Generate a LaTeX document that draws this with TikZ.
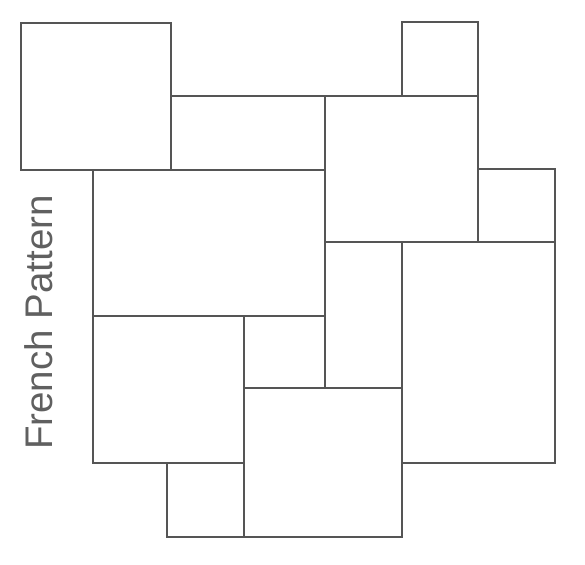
\documentclass[tikz,border=0pt]{standalone}
\usepackage{fontspec}
\setmainfont{Liberation Sans}
\definecolor{edge}{HTML}{555555}
\definecolor{label}{HTML}{606060}
\begin{document}
\begin{tikzpicture}[x=1pt,y=-1pt,
  tile/.style={draw=edge,line width=2pt,line join=miter},
  title/.style={text=label,font=\fontsize{38.5}{42}\selectfont,rotate=90,anchor=base,inner sep=0pt}]
\useasboundingbox (0,0) rectangle (585,564);
\draw[tile] (21,23) rectangle (171,170);
\draw[tile] (171,96) rectangle (325,170);
\draw[tile] (402,22) rectangle (478,96);
\draw[tile] (325,96) rectangle (478,242);
\draw[tile] (478,169) rectangle (555,242);
\draw[tile] (93,170) rectangle (325,316);
\draw[tile] (325,242) rectangle (402,388);
\draw[tile] (402,242) rectangle (555,463);
\draw[tile] (93,316) rectangle (244,463);
\draw[tile] (244,316) rectangle (325,388);
\draw[tile] (244,388) rectangle (402,537);
\draw[tile] (167,463) rectangle (244,537);
\node[title] (t) at (52,322.5) {French Pattern};
\end{tikzpicture}
\end{document}
